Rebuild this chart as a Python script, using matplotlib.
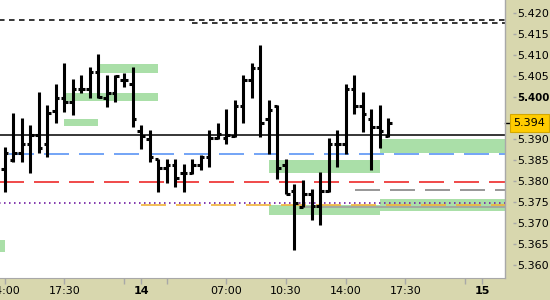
import matplotlib
matplotlib.use('Agg')
import matplotlib.pyplot as plt
import matplotlib.transforms as mtransforms

# 30 min OHLC bars
opens = [5.3830, 5.3851, 5.3868, 5.3890, 5.3910, 5.3889, 5.3968, 5.3999, 5.3990, 5.4020,
         5.4020, 5.4060, 5.3999, 5.4011, 5.4041, 5.4031, 5.3920, 5.3901, 5.3853, 5.3831,
         5.3839, 5.3820, 5.3820, 5.3839, 5.3859, 5.3902, 5.3902, 5.3908, 5.3979, 5.4041,
         5.4070, 5.3948, 5.3980, 5.3839, 5.3778, 5.3740, 5.3770, 5.3741, 5.3778, 5.3889,
         5.3889, 5.4020, 5.3979, 5.3948, 5.3930, 5.3908]
highs = [5.3881, 5.3963, 5.3951, 5.3934, 5.4013, 5.3982, 5.4032, 5.4081, 5.4044, 5.4053,
         5.4073, 5.4103, 5.4053, 5.4053, 5.4059, 5.4071, 5.3934, 5.3922, 5.3853, 5.3853,
         5.3853, 5.3841, 5.3853, 5.3863, 5.3922, 5.3940, 5.3972, 5.3994, 5.4053, 5.4081,
         5.4125, 5.3994, 5.3982, 5.3853, 5.3794, 5.3803, 5.3782, 5.3821, 5.3902, 5.3922,
         5.4032, 5.4053, 5.4012, 5.3972, 5.3982, 5.3950]
lows = [5.3775, 5.3847, 5.3847, 5.3819, 5.3867, 5.3857, 5.3938, 5.3966, 5.3958, 5.4010,
        5.3998, 5.3998, 5.3976, 5.3988, 5.4025, 5.3929, 5.3877, 5.3847, 5.3775, 5.3797,
        5.3787, 5.3775, 5.3817, 5.3827, 5.3835, 5.3900, 5.3888, 5.3906, 5.3938, 5.3998,
        5.3906, 5.3865, 5.3805, 5.3770, 5.3636, 5.3738, 5.3708, 5.3696, 5.3775, 5.3835,
        5.3865, 5.3960, 5.3917, 5.3827, 5.3879, 5.3906]
closes = [5.3868, 5.3868, 5.3890, 5.3910, 5.3880, 5.3962, 5.3999, 5.3990, 5.4020, 5.4020,
          5.4060, 5.4000, 5.4011, 5.4051, 5.4041, 5.3948, 5.3909, 5.3859, 5.3831, 5.3839,
          5.3809, 5.3820, 5.3839, 5.3859, 5.3902, 5.3912, 5.3910, 5.3979, 5.4041, 5.4070,
          5.3940, 5.3970, 5.3831, 5.3770, 5.3749, 5.3770, 5.3742, 5.3778, 5.3889, 5.3889,
          5.4020, 5.3979, 5.3960, 5.3930, 5.3920, 5.3940]
last_price = 5.394

# shaded zones: start bar, end bar, low, high
zone_start = [-1, 11, 7, 7, 31, 44, 31, 44]
zone_end = [0, 18, 18, 11, 44, 60, 44, 60]
zone_low = [5.3632, 5.40586, 5.39919, 5.39324, 5.38205, 5.38681, 5.37198, 5.37293]
zone_high = [5.3660, 5.40793, 5.40110, 5.39483, 5.38507, 5.39007, 5.37436, 5.37579]

# x ticks (bar index) and labels
xtick_pos = [0, 7, 14, 16, 19, 26, 33, 40, 47, 54, 56]
xtick_lab = ['14:00', '17:30', '', '14', '', '07:00', '10:30', '14:00', '17:30', '', '15']
# 5.395 sits under the last price box
yticks = [5.360, 5.365, 5.370, 5.375, 5.380, 5.385, 5.390, 5.400, 5.405, 5.410, 5.415, 5.420]

plt.rcParams['font.family'] = ['DejaVu Sans']
plt.rcParams['lines.scale_dashes'] = False
bg = '#d8d7ae'

fig = plt.figure(figsize=(5.5, 3.0), dpi=100, facecolor=bg)
ax = fig.add_axes([0, 22/300, 505/550, 278/300])
ax.set_facecolor('white')

n = len(opens)
idx = list(range(n))

for x0, x1, lo, hi in zip(zone_start, zone_end, zone_low, zone_high):
    ax.fill_between([x0, x1], lo, hi, color='#aadfa8', lw=0, zorder=1)


def level(y, x0=-1, x1=60, **kw):
    ax.plot([x0, x1], [y, y], zorder=2, solid_capstyle='butt', dash_capstyle='butt', **kw)


long_dash = (18, 7.2)
level(5.4184, color='black', lw=1.1, dashes=(4.0, 3.2))
level(5.4178, 22, color='black', lw=1.1, dashes=(4.0, 3.2))
level(5.3910, color='black', lw=1.1)
level(5.3864, color='#5b95f5', lw=1.2, linestyle=(18, long_dash))
level(5.3798, color='#ee2a2a', lw=1.2, linestyle=(0, long_dash))
level(5.3779, 41.1, color='#858585', lw=1.2, dashes=long_dash)
level(5.3748, color='#7a2aa8', lw=1.3, dashes=(1.1, 2.5))
level(5.3743, 16, color='#f0b23a', lw=1.2, dashes=long_dash)
level(5.3739, 35, color='#a0a0a0', lw=1.2)

# OHLC bars
ax.vlines(idx, lows, highs, color='black', lw=2.2, zorder=3)
ax.hlines(opens, [i - 0.42 for i in idx], idx, color='black', lw=2.2, zorder=3)
ax.hlines(closes, idx, [i + 0.42 for i in idx], color='black', lw=2.2, zorder=3)

ax.set_xlim(-0.55, 58.7)
ax.set_ylim(5.35698, 5.42317)

for s in ['top', 'left']:
    ax.spines[s].set_visible(False)
ax.spines['bottom'].set_color('#a8a8a8')
ax.spines['right'].set_position(('outward', 6))
ax.spines['right'].set_color('none')
ax.plot([1, 1], [0, 1], transform=ax.transAxes, color='#a8a8a8', lw=1, clip_on=False, zorder=5)

ax.yaxis.tick_right()
ax.set_yticks(yticks)
ax.set_yticklabels(['%.3f' % v for v in yticks], fontsize=8)
for lab, v in zip(ax.get_yticklabels(), yticks):
    if abs(v - 5.400) < 1e-6:
        lab.set_fontweight('bold')
        lab.set_fontsize(7.4)
ax.tick_params(axis='y', length=2.5, width=1, color='#a8a8a8', pad=0.5)

ax.set_xticks(xtick_pos)
ax.set_xticklabels(xtick_lab, fontsize=8)
for lab, t in zip(ax.get_xticklabels(), xtick_lab):
    if t in ('14', '15'):
        lab.set_fontweight('bold')
ax.tick_params(axis='x', length=4, width=1, color='#a8a8a8', pad=2)

# last price marker
tr = mtransforms.blended_transform_factory(ax.transAxes, ax.transData)
ax.plot([1.0, 1.008], [last_price, last_price], transform=tr, color='black', lw=1, clip_on=False)
tr2 = mtransforms.blended_transform_factory(fig.transFigure, ax.transData)
ax.text(529.5/550, last_price - 0.0002, '%.3f' % last_price, transform=tr2, fontsize=8,
        ha='center', va='center', zorder=6,
        bbox=dict(boxstyle='square,pad=0.36', facecolor='#ffcc00', edgecolor='#d4a800', lw=0.8))

fig.savefig('out.png', dpi=100, facecolor=bg)
